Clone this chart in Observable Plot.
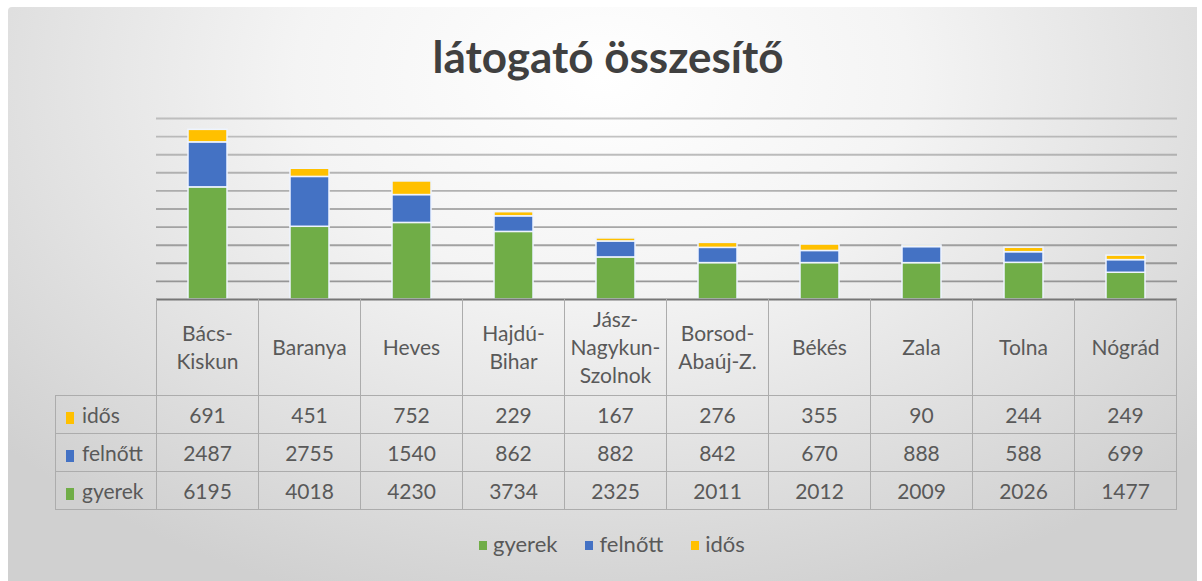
<!DOCTYPE html>
<html>
<head>
<meta charset="utf-8">
<script src="https://cdn.jsdelivr.net/npm/d3@7"></script>
<script src="https://cdn.jsdelivr.net/npm/@observablehq/plot@0.6"></script>
<style>
  html, body { margin: 0; padding: 0; background: #ffffff; }
  #root { position: relative; width: 1202px; height: 581px; overflow: hidden; font-family: Lato, "Open Sans", sans-serif; color: #595959; }
  #panel { position: absolute; left: 8px; top: 7px; width: 1189px; height: 580px; border-radius: 4px 0 0 0;
    background: radial-gradient(ellipse 68% 95% at 50% 12%, #ffffff 0%, #f4f4f4 38%, #d0d0d0 100%); }
  #title { position: absolute; left: 7px; width: 1202px; top: 30px; line-height: 52px; text-align: center; font-size: 44px; font-weight: 700; color: #404040; letter-spacing: 0px; }
  #plot { position: absolute; left: 0; top: 100px; }
  #table { position: absolute; left: 55px; top: 299px; border-collapse: collapse; table-layout: fixed; font-size: 21px; color: #595959; }
  #table td { border: 1.5px solid #acacac; text-align: center; padding: 0; line-height: 28px; height: 37px; white-space: pre; }
  #table tr.head td { height: 96px; border-top: none; }
  #table tr.head td.blank { border: none; border-right: 1.5px solid #acacac; }
  #table td.lab { text-align: left; padding-left: 10px; }
  .key { display: inline-block; width: 8px; height: 12px; margin-right: 8px; vertical-align: -1px; }
  #legend { position: absolute; top: 530px; left: 479px; font-size: 22px; color: #595959; white-space: nowrap; }
  #legend span.item { margin-right: 28px; }
  #legend .lkey { display: inline-block; width: 8px; height: 9px; margin-right: 6px; vertical-align: 2px; }
</style>
</head>
<body>
<div id="root">
  <div id="panel"></div>
  <div id="title">látogató összesítő</div>
  <div id="plot"></div>
  <table id="table"></table>
  <div id="legend"></div>
</div>
<script>
const categories = ["Bács-Kiskun", "Baranya", "Heves", "Hajdú-Bihar", "Jász-Nagykun-Szolnok", "Borsod-Abaúj-Z.", "Békés", "Zala", "Tolna", "Nógrád"];
const headerLabels = ["Bács-\nKiskun", "Baranya", "Heves", "Hajdú-\nBihar", "Jász-\nNagykun-\nSzolnok", "Borsod-\nAbaúj-Z.", "Békés", "Zala", "Tolna", "Nógrád"];
const seriesNames = ["gyerek", "felnőtt", "idős"];
const gyerek = [6195, 4018, 4230, 3734, 2325, 2011, 2012, 2009, 2026, 1477];
const felnott = [2487, 2755, 1540, 862, 882, 842, 670, 888, 588, 699];
const idos = [691, 451, 752, 229, 167, 276, 355, 90, 244, 249];
const seriesColors = ["#70AD47", "#4472C4", "#FFC000"];
const gridValues = [1000, 2000, 3000, 4000, 5000, 6000, 7000, 8000, 9000, 10000];

const seriesValues = [gyerek, felnott, idos];
const rows = [];
seriesNames.forEach((s, i) => categories.forEach((c, j) => rows.push({cat: c, series: s, value: seriesValues[i][j]})));

const chart = Plot.plot({
  width: 1202, height: 200,
  marginLeft: 156, marginRight: 25, marginTop: 18, marginBottom: 1,
  x: {domain: categories, paddingInner: 0.62, paddingOuter: 0.31, axis: null},
  y: {domain: [0, 10000], axis: null},
  color: {domain: seriesNames, range: seriesColors},
  style: {background: "transparent", overflow: "visible"},
  marks: [
    Plot.ruleY(gridValues, {stroke: "#888888", strokeWidth: 1.9, strokeOpacity: d => 0.9 - 0.45 * d / 10000}),
    Plot.barY(rows, {x: "cat", y: "value", fill: "series", stroke: "#eef4ff", strokeWidth: 1.5}),
    Plot.ruleY([0], {stroke: "#767676", strokeWidth: 2.2})
  ]
});
document.getElementById("plot").appendChild(chart);

// data table, aligned with the x scale
const xs = chart.scale("x");
const step = xs.step;
const table = document.getElementById("table");
let html = `<colgroup><col style="width:${156 - 55}px">` + categories.map(() => `<col style="width:${step}px">`).join("") + `</colgroup>`;
html += `<tr class="head"><td class="blank"></td>` + headerLabels.map(l => `<td>${l}</td>`).join("") + `</tr>`;
[2, 1, 0].forEach(i => {
  html += `<tr><td class="lab"><span class="key" style="background:${seriesColors[i]}"></span>${seriesNames[i]}</td>` +
    seriesValues[i].map(v => `<td>${v}</td>`).join("") + `</tr>`;
});
table.innerHTML = html;

// legend
document.getElementById("legend").innerHTML = seriesNames.map((s, i) =>
  `<span class="item"><span class="lkey" style="background:${seriesColors[i]}"></span>${s}</span>`).join("");
</script>
</body>
</html>
